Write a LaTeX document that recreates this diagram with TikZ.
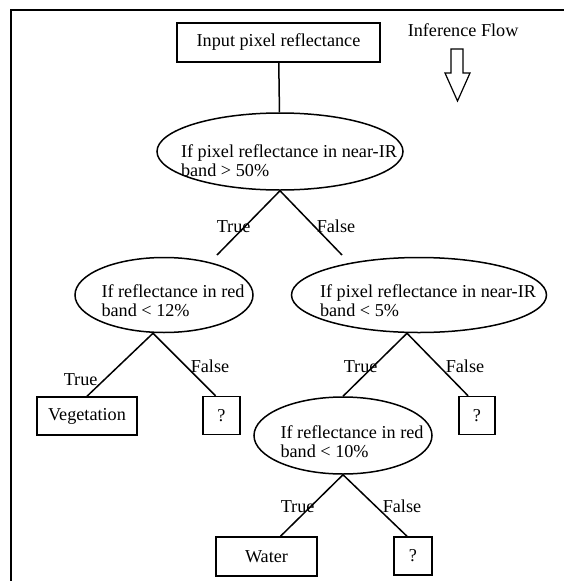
\documentclass[tikz,border=0pt]{standalone}
\usepackage{fontspec}
\setmainfont{Liberation Serif}
\usepackage{tikz}
\usetikzlibrary{shapes.geometric}

\begin{document}
\begin{tikzpicture}[%
		x=1pt, y=-1pt,
		line width=1.5pt,
		every node/.style={font=\fontsize{18.2}{19}\selectfont},
		box/.style={draw, rectangle, inner sep=0pt, minimum height=38pt},
		cond/.style={draw, ellipse, inner sep=0pt},
		condtext/.style={align=left, inner sep=0pt, xshift=9pt, yshift=-6pt},
		tf/.style={anchor=base west, inner sep=0pt}
		]

		\useasboundingbox (0,0) rectangle (564,581);

		%% Rahmen (nur oben und links)
		\draw [line width=1.8pt] (564,10) -- (11,10) -- (11,581);

		%% Kopf
		\node [box, minimum width=203pt, minimum height=39pt] (input) at (278.5,42.5) {Input pixel reflectance};
		\node [tf] (flow) at (407,36) {Inference Flow};
		\draw [line width=1.2pt] (451,49) -- (451,73) -- (445,73) -- (457.5,101) -- (470,73) -- (463,73) -- (463,49) -- cycle;

		%% Entscheidungen
		\node [cond, minimum width=246pt, minimum height=77pt,
			label={[condtext, yshift=-3pt]center:{If pixel reflectance in near-IR\\band > 50\%}}] (nir50) at (280,151.5) {};
		\node [cond, minimum width=178pt, minimum height=75pt,
			label={[condtext]center:{If reflectance in red\\band < 12\%}}] (red12) at (164,295) {};
		\node [cond, minimum width=255pt, minimum height=75pt,
			label={[condtext]center:{If pixel reflectance in near-IR\\band < 5\%}}] (nir5) at (419,295) {};
		\node [cond, minimum width=178pt, minimum height=77pt,
			label={[condtext]center:{If reflectance in red\\band < 10\%}}] (red10) at (343,435.5) {};

		%% Ergebnisse
		\node [box, minimum width=100pt] (veg) at (87,416) {Vegetation};
		\node [box, minimum width=37pt] (q1) at (221.5,415.5) {?};
		\node [box, minimum width=36pt] (q2) at (477,415.5) {?};
		\node [box, minimum width=101pt, minimum height=39pt] (water) at (266.5,556.5) {Water};
		\node [box, minimum width=38pt] (q3) at (413,556) {?};

		%% Verbindungen
		\coordinate (endt) at (217,255);
		\coordinate (endf) at (342,255);
		\draw (input) -- (nir50);
		\draw (endt) -- (nir50.south) -- (endf);
		\draw (veg.north) -- ([xshift=-11pt]red12.south) -- ([xshift=-6pt]q1.north);
		\draw (red10.north) -- ([xshift=-12pt]nir5.south) -- ([xshift=-9pt]q2.north);
		\draw ([xshift=14pt]water.north) -- (red10.south) -- ([xshift=-6pt]q3.north);

		%% True / False
		\node [tf] (tnir50) at (216,232) {True};
		\node [tf] (fnir50) at (316,232) {False};
		\node [tf] (tred12) at (63,385) {True};
		\node [tf] (fred12) at (190,372) {False};
		\node [tf] (tnir5) at (343,372) {True};
		\node [tf] (fnir5) at (445,372) {False};
		\node [tf] (tred10) at (280,512) {True};
		\node [tf] (fred10) at (382,512) {False};

	\end{tikzpicture}
\end{document}
